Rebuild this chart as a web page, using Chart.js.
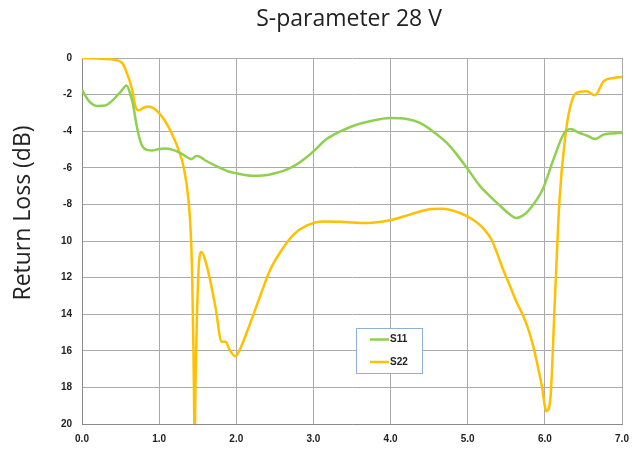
<!DOCTYPE html>
<html>
<head>
<meta charset="utf-8">
<script src="https://cdn.jsdelivr.net/npm/chart.js@4/dist/chart.umd.min.js"></script>
<style>
html,body{margin:0;padding:0;background:#fff;}
#wrap{width:638px;height:450px;}
</style>
</head>
<body>
<div id="wrap"><canvas id="c" width="638" height="450"></canvas></div>
<script>
const chartTitle = 'S-parameter 28 V';
const yTitle = 'Return Loss (dB)';
const yTickLabels = ['0','-2','-4','-6','-8','10','12','14','16','18','20'];
const seriesNames = ['S11','S22'];

const s11Freq = [0.0,0.1,0.2,0.3,0.4,0.5,0.58,0.62,0.66,0.7,0.74,0.78,0.84,0.92,1.0,1.08,1.2,1.3,1.42,1.47,1.5,1.6,1.75,1.9,2.0,2.2,2.35,2.5,2.6,2.74,2.87,3.0,3.17,3.35,3.52,3.73,3.99,4.21,4.38,4.55,4.73,4.86,4.99,5.16,5.29,5.4,5.55,5.63,5.75,5.85,5.98,6.11,6.24,6.33,6.45,6.55,6.65,6.76,6.88,7.0];
const s11Loss = [1.75,2.4,2.62,2.6,2.3,1.85,1.5,1.9,2.5,3.5,4.3,4.8,5.02,5.05,4.97,4.95,5.05,5.25,5.52,5.38,5.35,5.6,5.92,6.2,6.3,6.43,6.42,6.3,6.18,5.92,5.56,5.1,4.43,4.01,3.7,3.46,3.28,3.33,3.55,4.01,4.64,5.28,6.01,7.0,7.56,8.0,8.56,8.74,8.5,8.01,7.1,5.56,4.19,3.88,4.1,4.25,4.43,4.19,4.12,4.1];

const s22Freq = [0.0,0.2,0.41,0.52,0.58,0.65,0.69,0.73,0.8,0.86,0.93,0.99,1.07,1.14,1.25,1.32,1.38,1.41,1.43,1.445,1.46,1.475,1.49,1.52,1.55,1.62,1.73,1.81,1.86,1.92,1.99,2.05,2.18,2.31,2.44,2.59,2.74,2.91,3.13,3.39,3.69,3.99,4.25,4.47,4.66,4.9,5.07,5.2,5.31,5.38,5.46,5.55,5.63,5.72,5.78,5.85,5.96,6.02,6.07,6.13,6.19,6.26,6.33,6.41,6.54,6.65,6.76,6.89,7.0];
const s22Loss = [0.0,0.03,0.09,0.27,0.8,1.73,2.6,2.86,2.72,2.65,2.75,2.97,3.4,3.92,5.0,6.0,7.74,9.56,12.3,16,20.5,17,14.1,11.0,10.6,11.4,13.6,15.5,15.5,16.0,16.3,15.9,14.5,13.0,11.57,10.48,9.66,9.16,8.93,8.96,9.02,8.87,8.56,8.29,8.24,8.47,8.84,9.3,9.93,10.66,11.57,12.48,13.3,14.1,14.75,15.76,17.9,19.3,18.7,13.2,7.74,4.46,2.64,1.91,1.82,2.04,1.28,1.09,1.04];

const colors = ['#8fd14f','#ffc000'];

function pts(xs, ys){ return xs.map((x,i)=>({x:x,y:ys[i]})); }

const textPlugin = {
  id:'textPlugin',
  afterDraw(chart){
    const ctx = chart.ctx;
    ctx.save();
    ctx.fillStyle = '#222';
    ctx.font = '23px "Open Sans", "Noto Sans", sans-serif';
    ctx.textAlign = 'center';
    ctx.textBaseline = 'middle';
    ctx.fillText(chartTitle, 349, 19);
    ctx.translate(23, 213);
    ctx.rotate(-Math.PI/2);
    ctx.fillText(yTitle, 0, 0);
    ctx.restore();
    // legend box
    ctx.save();
    const bx = 356.5, by = 328.5, bw = 66, bh = 45;
    ctx.fillStyle = '#fff';
    ctx.fillRect(bx, by, bw, bh);
    ctx.strokeStyle = '#8eaedb';
    ctx.lineWidth = 1;
    ctx.strokeRect(bx, by, bw, bh);
    ctx.font = 'bold 10px "Liberation Sans", Arial, sans-serif';
    ctx.textBaseline = 'middle';
    ctx.textAlign = 'left';
    const rows = [339.5, 362];
    seriesNames.forEach((n,i)=>{
      ctx.strokeStyle = colors[i];
      ctx.lineWidth = 2.5;
      ctx.beginPath();
      ctx.moveTo(370, rows[i]);
      ctx.lineTo(389, rows[i]);
      ctx.stroke();
      ctx.fillStyle = '#222';
      ctx.fillText(n, 390, rows[i]);
    });
    ctx.restore();
  }
};

new Chart(document.getElementById('c'), {
  type:'line',
  data:{
    datasets:[
      {label:seriesNames[0], data:pts(s11Freq,s11Loss), borderColor:colors[0], backgroundColor:colors[0], borderWidth:2.5, pointRadius:0, cubicInterpolationMode:'monotone', fill:false},
      {label:seriesNames[1], data:pts(s22Freq,s22Loss), borderColor:colors[1], backgroundColor:colors[1], borderWidth:2.5, pointRadius:0, cubicInterpolationMode:'monotone', fill:false}
    ]
  },
  options:{
    responsive:false,
    animation:false,
    clip:0,
    layout:{padding:{top:58,right:16,bottom:0,left:0}},
    plugins:{legend:{display:false}, title:{display:false}, tooltip:{enabled:false}},
    scales:{
      x:{
        type:'linear', min:0, max:7,
        afterFit(s){ s.height = 26; },
        ticks:{stepSize:1, padding:9, color:'#222', font:{family:'"Liberation Sans", Arial, sans-serif', size:10, weight:'bold'}, callback:(v)=>Number(v).toFixed(1)},
        grid:{color:'#aaaaaa', lineWidth:1, drawTicks:false},
        border:{color:'#8a8a8a', width:1}
      },
      y:{
        type:'linear', min:0, max:20, reverse:true,
        afterFit(s){ s.width = 82; },
        ticks:{stepSize:2, padding:10, color:'#222', font:{family:'"Liberation Sans", Arial, sans-serif', size:10, weight:'bold'}, callback:(v)=>yTickLabels[Math.round(v/2)]},
        grid:{color:'#aaaaaa', lineWidth:1, drawTicks:false},
        border:{color:'#8a8a8a', width:1}
      }
    }
  },
  plugins:[textPlugin]
});
</script>
</body>
</html>
